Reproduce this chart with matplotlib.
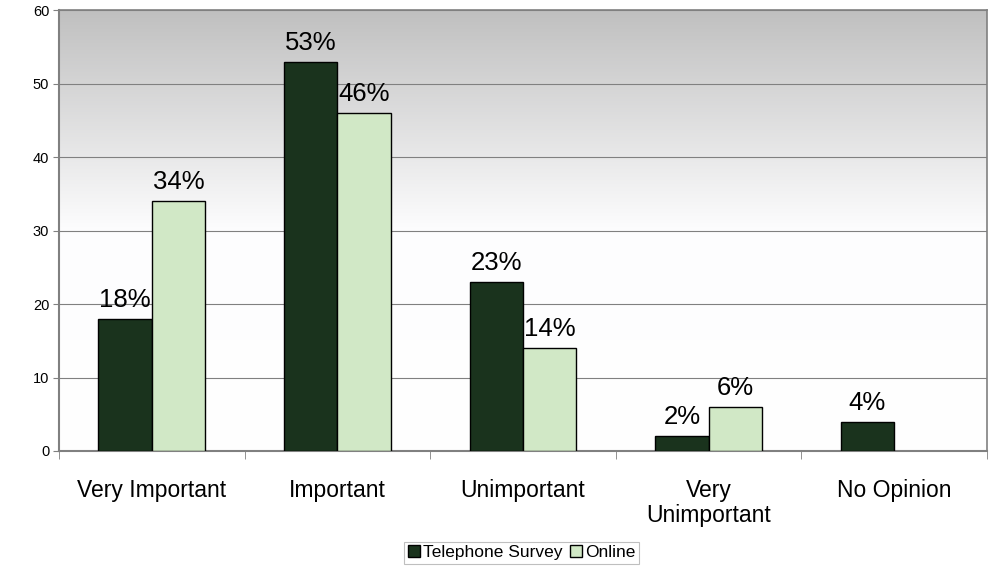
import numpy as np
import matplotlib.pyplot as plt
from matplotlib.colors import LinearSegmentedColormap

categories = ['Very Important', 'Important', 'Unimportant', 'Very\nUnimportant', 'No Opinion']
telephone = [18, 53, 23, 2, 4]
online = [34, 46, 14, 6, None]
series_names = ['Telephone Survey', 'Online']
yticks = [0, 10, 20, 30, 40, 50, 60]

plt.rcParams['font.family'] = ['Liberation Sans', 'DejaVu Sans']

fig = plt.figure(figsize=(10.03, 5.68), dpi=100)
ax = fig.add_axes([0.0588, 0.206, 0.9252, 0.776])

# grey-to-white gradient background
cmap = LinearSegmentedColormap.from_list('bg', ['#ffffff', '#fdfdfe', '#c0c0c0'])
grad = np.linspace(0, 1, 256).reshape(-1, 1)
ax.imshow(grad, cmap=cmap, aspect='auto', extent=[-0.5, 4.5, 0, 60],
          origin='lower', zorder=0)

x = np.arange(len(categories))
w = 0.288
dark = '#1a331d'
light = '#d1e8c6'

tel_vals = [v for v in telephone]
on_x = [i for i, v in enumerate(online) if v is not None]
on_vals = [v for v in online if v is not None]

b1 = ax.bar(x - w / 2, tel_vals, w, color=dark, edgecolor='black', linewidth=1, zorder=3,
            label=series_names[0])
b2 = ax.bar(np.array(on_x) + w / 2, on_vals, w, color=light, edgecolor='black', linewidth=1,
            zorder=3, label=series_names[1])

for rect, v in zip(b1, tel_vals):
    ax.annotate(f'{v}%', (rect.get_x() + rect.get_width() / 2, v), xytext=(0, 5),
                textcoords='offset points', ha='center', va='bottom', fontsize=18.5, zorder=4)
for rect, v in zip(b2, on_vals):
    ax.annotate(f'{v}%', (rect.get_x() + rect.get_width() / 2, v), xytext=(0, 5),
                textcoords='offset points', ha='center', va='bottom', fontsize=18.5, zorder=4)

ax.set_xlim(-0.5, 4.5)
ax.set_ylim(0, 60)
ax.set_yticks(yticks)
ax.set_yticklabels([str(t) for t in yticks], fontsize=10.5)
ax.yaxis.grid(True, color='#808080', linewidth=0.8, zorder=1)
ax.set_axisbelow(False)

ax.set_xticks(x)
ax.set_xticklabels(categories, fontsize=16.5, linespacing=1.15)
ax.tick_params(axis='x', length=0, pad=20)
ax.set_xticks(np.arange(-0.5, 5.0, 1.0), minor=True)
ax.tick_params(axis='x', which='minor', length=6, color='#808080')
ax.tick_params(axis='y', length=4, color='#808080', pad=3)

for s in ax.spines.values():
    s.set_color('#808080')
    s.set_linewidth(1.5)
ax.spines['top'].set_linewidth(1.2)
ax.spines['right'].set_linewidth(1.2)

leg = fig.legend(handles=[b1, b2], loc='center', bbox_to_anchor=(0.52, 0.027), ncol=2,
                 fontsize=12.5, frameon=True, fancybox=False, edgecolor='#b0b0b0',
                 handlelength=0.7, handleheight=0.7, handletextpad=0.2, columnspacing=0.4,
                 borderpad=0.2, borderaxespad=0)
leg.get_frame().set_linewidth(0.8)

fig.savefig('out.png', dpi=100)
